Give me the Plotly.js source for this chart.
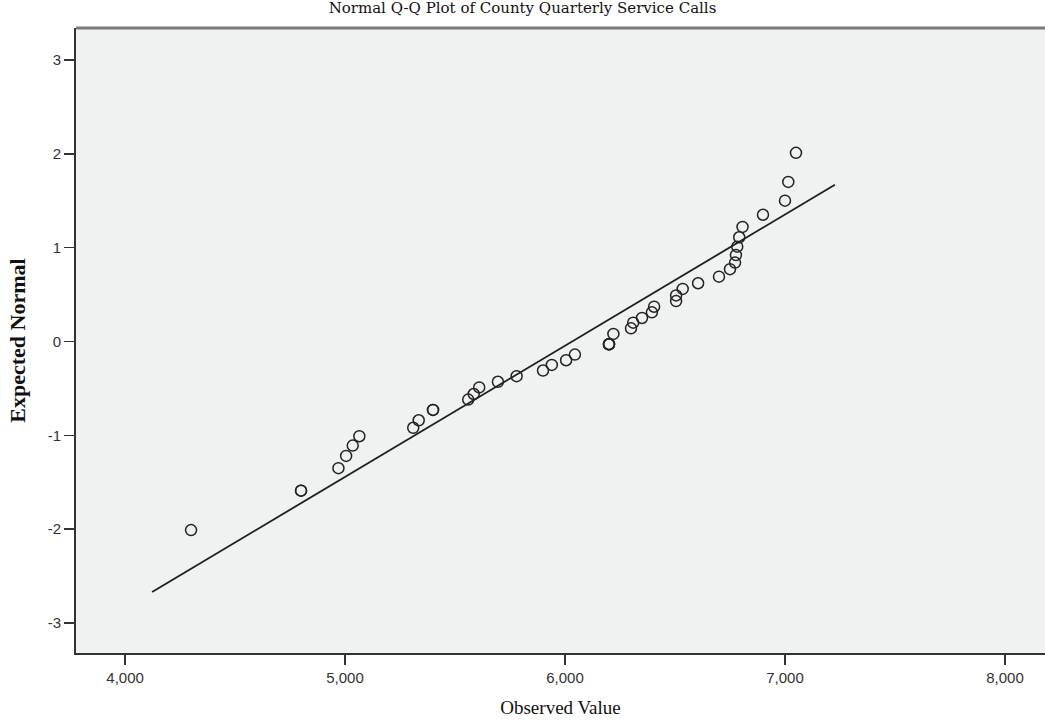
<!DOCTYPE html>
<html>
<head>
<meta charset="utf-8">
<script src="https://cdn.plot.ly/plotly-3.0.1.min.js"></script>
<style>
  html, body { margin: 0; padding: 0; background: #ffffff; }
  #chart { width: 1045px; height: 721px; }
</style>
</head>
<body>
<div id="chart"></div>
<script>
// Observed quarterly service calls per county (sorted) and their expected normal scores
const observedCalls = [
  4300, 4800, 4800, 4970, 5005, 5035, 5065, 5310, 5335, 5400, 5400,
  5560, 5585, 5610, 5695, 5780, 5900, 5940, 6005, 6045,
  6200, 6200, 6200, 6220, 6300, 6310, 6350, 6395, 6405, 6505, 6505,
  6535, 6605, 6700, 6750, 6773, 6777, 6783, 6792, 6807, 6900, 7000, 7015, 7050
];
const expectedNormal = [
  -2.01, -1.59, -1.59, -1.35, -1.22, -1.11, -1.01, -0.92, -0.84, -0.73, -0.73,
  -0.62, -0.56, -0.49, -0.43, -0.37, -0.31, -0.25, -0.20, -0.14,
  -0.03, -0.03, -0.03, 0.08, 0.14, 0.20, 0.25, 0.31, 0.37, 0.43, 0.49,
  0.56, 0.62, 0.69, 0.77, 0.84, 0.92, 1.01, 1.11, 1.22, 1.35, 1.50, 1.70, 2.01
];

// Reference line endpoints (observed value, expected normal)
const refLineX = [4123, 7227];
const refLineY = [-2.67, 1.67];

// Axis ticks
const xTickVals = [4000, 5000, 6000, 7000, 8000];
const xTickText = ['4,000', '5,000', '6,000', '7,000', '8,000'];
const yTickVals = [-3, -2, -1, 0, 1, 2, 3];
const yTickText = ['-3', '-2', '-1', '0', '1', '2', '3'];

const traces = [
  {
    type: 'scatter',
    mode: 'lines',
    x: refLineX,
    y: refLineY,
    line: { color: '#1e1e1e', width: 1.8 },
    hoverinfo: 'skip',
    showlegend: false
  },
  {
    type: 'scatter',
    mode: 'markers',
    x: observedCalls,
    y: expectedNormal,
    marker: {
      symbol: 'circle-open',
      size: 11,
      color: '#222222',
      line: { color: '#222222', width: 1.5 }
    },
    showlegend: false
  }
];

const layout = {
  width: 1045,
  height: 721,
  paper_bgcolor: '#ffffff',
  plot_bgcolor: '#f0f1f1',
  margin: { l: 76, r: 0, t: 28, b: 68 },
  title: {
    text: 'Normal Q-Q Plot of County Quarterly Service Calls',
    font: { family: 'DejaVu Serif, serif', size: 15, color: '#111111' },
    x: 0.5,
    xref: 'container',
    xanchor: 'center',
    y: 1,
    yref: 'container',
    yanchor: 'top',
    pad: { t: 2 }
  },
  xaxis: {
    range: [3777, 8182],
    tickvals: xTickVals,
    ticktext: xTickText,
    ticks: 'outside',
    ticklen: 10,
    tickwidth: 1.5,
    tickcolor: '#333333',
    tickfont: { family: 'Liberation Sans, Arial, sans-serif', size: 15, color: '#333333' },
    showline: true,
    linecolor: '#333333',
    linewidth: 2,
    showgrid: false,
    zeroline: false,
    title: {
      text: 'Observed Value',
      font: { family: 'Liberation Serif, serif', size: 19, color: '#111111' },
      standoff: 16
    }
  },
  yaxis: {
    range: [-3.32, 3.34],
    tickvals: yTickVals,
    ticktext: yTickText,
    ticks: 'outside',
    ticklen: 10,
    tickwidth: 1.5,
    tickcolor: '#333333',
    tickfont: { family: 'Liberation Sans, Arial, sans-serif', size: 15, color: '#333333' },
    showline: true,
    linecolor: '#333333',
    linewidth: 2,
    showgrid: false,
    zeroline: false,
    title: {
      text: '<b>Expected Normal</b>',
      font: { family: 'Liberation Serif, serif', size: 22, color: '#111111' },
      standoff: 16
    }
  },
  shapes: [
    {
      type: 'line',
      xref: 'paper', yref: 'paper',
      x0: 0, x1: 1, y0: 1, y1: 1,
      line: { color: '#7a7a7a', width: 3 }
    }
  ]
};

Plotly.newPlot('chart', traces, layout, { displayModeBar: false, staticPlot: true });
</script>
</body>
</html>
